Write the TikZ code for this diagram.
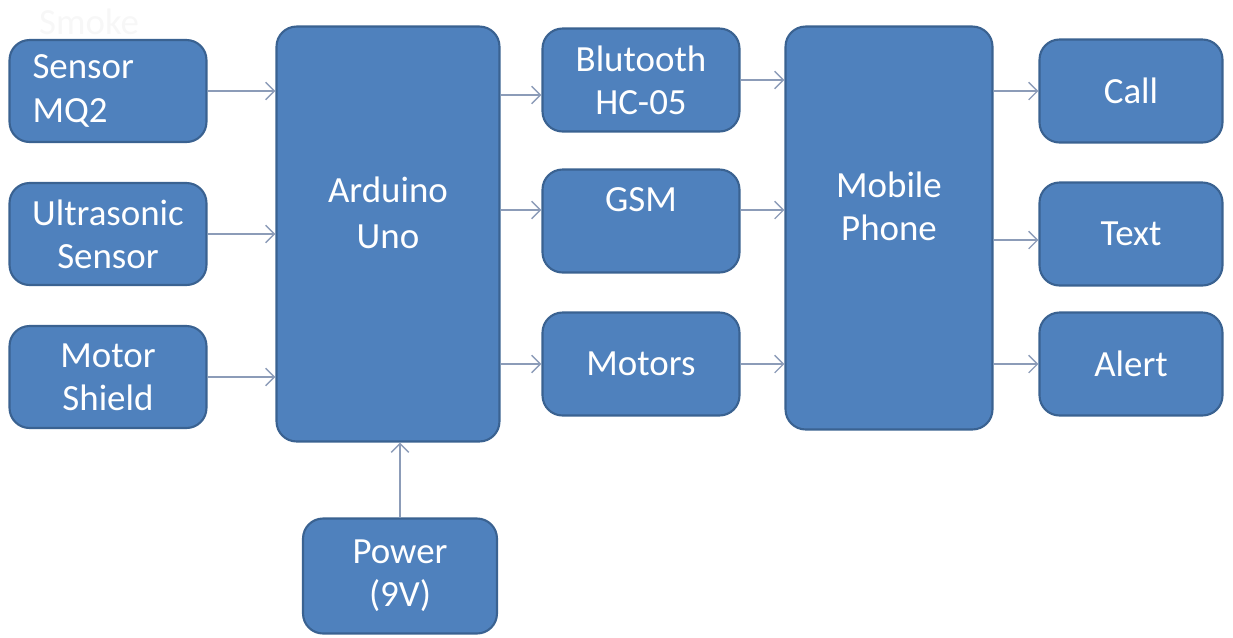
\documentclass[tikz,border=0pt]{standalone}
\usepackage{fontspec}
\setmainfont{Carlito}
\usepackage{xcolor}
\usetikzlibrary{arrows.meta}

\definecolor{boxFill}{HTML}{4F81BD}
\definecolor{boxLine}{HTML}{3A6291}
\definecolor{arrLine}{HTML}{8C9CB8}

\begin{document}
\begin{tikzpicture}[x=0.02cm, y=-0.02cm]
               \tikzstyle{myBox}=[draw=boxLine, line width=1.2pt, fill=boxFill, rounded corners=0.4cm,
                        text=white, align=center, font=\fontsize{21}{24.6}\selectfont, inner sep=0pt]
               \tikzstyle{myArr}=[draw=arrLine, line width=0.8pt, -{Straight Barb[length=5pt, width=10pt]}]

               \useasboundingbox (0,0) rectangle (1233,637);

               \node[text=gray!6, font=\fontsize{21}{24.6}\selectfont, anchor=west] (smoke) at (33,22) {Smoke};

               % inputs
               \node[myBox, minimum width=3.94cm, minimum height=2.04cm, text width=3.02cm, align=left] (mq2) at (108,91) {Sensor\\MQ2};
               \node[myBox, minimum width=3.94cm, minimum height=2.04cm] (ultra) at (108,234) {Ultrasonic\\Sensor};
               \node[myBox, minimum width=3.94cm, minimum height=2.04cm] (shield) at (108,377) {Motor\\Shield};

               % controller
               \node[myBox, minimum width=4.46cm, minimum height=8.3cm] (uno) at (388,234) {Arduino\\[0.06cm]Uno\\[-0.26cm]\strut};
               \node[myBox, minimum width=3.88cm, minimum height=2.3cm] (power) at (400,576) {Power\\(9V)};

               % middle column
               \node[myBox, minimum width=3.94cm, minimum height=2.06cm] (blu) at (641,80) {Blutooth\\HC-05};
               \node[myBox, minimum width=3.94cm, minimum height=2.06cm] (gsm) at (641,221) {GSM\\[-0.26cm]\strut};
               \node[myBox, minimum width=3.94cm, minimum height=2.06cm] (motors) at (641,364) {Motors};

               \node[myBox, minimum width=4.14cm, minimum height=8.06cm] (phone) at (889,228) {Mobile\\Phone\\[-0.26cm]\strut};

               % outputs
               \node[myBox, minimum width=3.66cm, minimum height=2.06cm] (call) at (1131,91) {Call};
               \node[myBox, minimum width=3.66cm, minimum height=2.06cm] (text) at (1131,234) {Text};
               \node[myBox, minimum width=3.66cm, minimum height=2.06cm] (alert) at (1131,364) {Alert};

               \draw[myArr] (mq2.east) -- (mq2.east -| uno.west);
               \draw[myArr] (ultra.east) -- (ultra.east -| uno.west);
               \draw[myArr] (shield.east) -- (shield.east -| uno.west);
               \draw[myArr] (power.north) -- (power.north |- uno.south);

               \draw[myArr] ([yshift=-0.3cm]blu.west -| uno.east) -- ([yshift=-0.3cm]blu.west);
               \draw[myArr] ([yshift=0.22cm]gsm.west -| uno.east) -- ([yshift=0.22cm]gsm.west);
               \draw[myArr] (motors.west -| uno.east) -- (motors.west);

               \draw[myArr] (blu.east) -- (blu.east -| phone.west);
               \draw[myArr] ([yshift=0.22cm]gsm.east) -- ([yshift=0.22cm]gsm.east -| phone.west);
               \draw[myArr] (motors.east) -- (motors.east -| phone.west);

               \draw[myArr] (call.west -| phone.east) -- (call.west);
               \draw[myArr] ([yshift=-0.12cm]text.west -| phone.east) -- ([yshift=-0.12cm]text.west);
               \draw[myArr] (alert.west -| phone.east) -- (alert.west);
            \end{tikzpicture}
\end{document}
